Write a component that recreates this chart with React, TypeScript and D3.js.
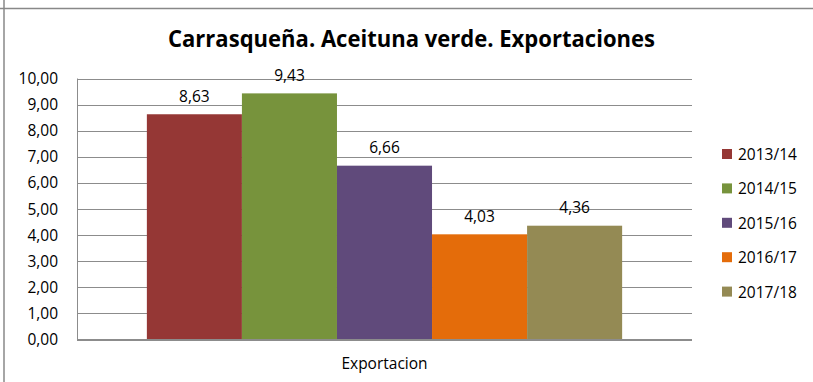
import React from "react";
import * as d3 from "d3";

const categories = ["Exportacion"];
const seriesNames = ["2013/14", "2014/15", "2015/16", "2016/17", "2017/18"];
const seriesValues = [8.63, 9.43, 6.66, 4.03, 4.36];
const colors = ["#953735", "#77933C", "#604A7B", "#E46C0A", "#948A54"];
const yTicks = [0, 1, 2, 3, 4, 5, 6, 7, 8, 9, 10];
const title = "Carrasqueña. Aceituna verde. Exportaciones";

const W = 813, H = 382;
const plot = { left: 77, right: 692, top: 78.5, bottom: 339.5 };
const fmt = (v: number) => v.toFixed(2).replace(".", ",");

export default function App() {
  const y = d3.scaleLinear().domain([0, 10]).range([plot.bottom, plot.top]);
  const x0 = d3.scaleBand().domain(categories).range([plot.left, plot.right]).paddingInner(0).paddingOuter(0.147);
  const x1 = d3.scaleBand().domain(seriesNames).range([0, x0.bandwidth()]);
  const font = "'Open Sans', sans-serif";
  return (
    <svg width={W} height={H} style={{ position: "absolute", left: 0, top: 0, background: "#fff" }} fontFamily={font}>
      <line x1={4} y1={0} x2={4} y2={H} stroke="#888" strokeWidth={1.5} />
      <line x1={0} y1={8.5} x2={W} y2={8.5} stroke="#888" strokeWidth={1.5} />
      <text x={411.5} y={47} textAnchor="middle" fontWeight="bold" fontSize={23.5} textLength={487} lengthAdjust="spacingAndGlyphs">{title}</text>
      {yTicks.map((t) => (
        <g key={t}>
          <line x1={plot.left} x2={plot.right} y1={Math.round(y(t)) + 0.5} y2={Math.round(y(t)) + 0.5} stroke="#8c8c8c" strokeWidth={1} />
          <text x={58} y={y(t) + 5.5} textAnchor="end" fontSize={15.5} fill="#000">{fmt(t)}</text>
        </g>
      ))}
      <line x1={plot.left + 0.5} x2={plot.left + 0.5} y1={plot.top} y2={plot.bottom} stroke="#8c8c8c" />
      {categories.map((c) => (
        <g key={c}>
          {seriesNames.map((s, i) => {
            const bx = (x0(c) as number) + (x1(s) as number);
            const v = seriesValues[i];
            return (
              <g key={s}>
                <rect x={bx} y={y(v)} width={x1.bandwidth()} height={y(0) - y(v)} fill={colors[i]} />
                <text x={bx + x1.bandwidth() / 2} y={y(v) - 12.5} textAnchor="middle" fontSize={15.5} fill="#000">{fmt(v)}</text>
              </g>
            );
          })}
          <text x={(x0(c) as number) + x0.bandwidth() / 2} y={368.5} textAnchor="middle" fontSize={15.5} fill="#000">{c}</text>
        </g>
      ))}
      <line x1={plot.left} x2={plot.right} y1={plot.bottom} y2={plot.bottom} stroke="#8c8c8c" />
      {seriesNames.map((s, i) => (
        <g key={s}>
          <rect x={722} y={149 + i * 34.4} width={10} height={10} fill={colors[i]} />
          <text x={738} y={160 + i * 34.4} fontSize={15.5} fill="#000">{s}</text>
        </g>
      ))}
    </svg>
  );
}
